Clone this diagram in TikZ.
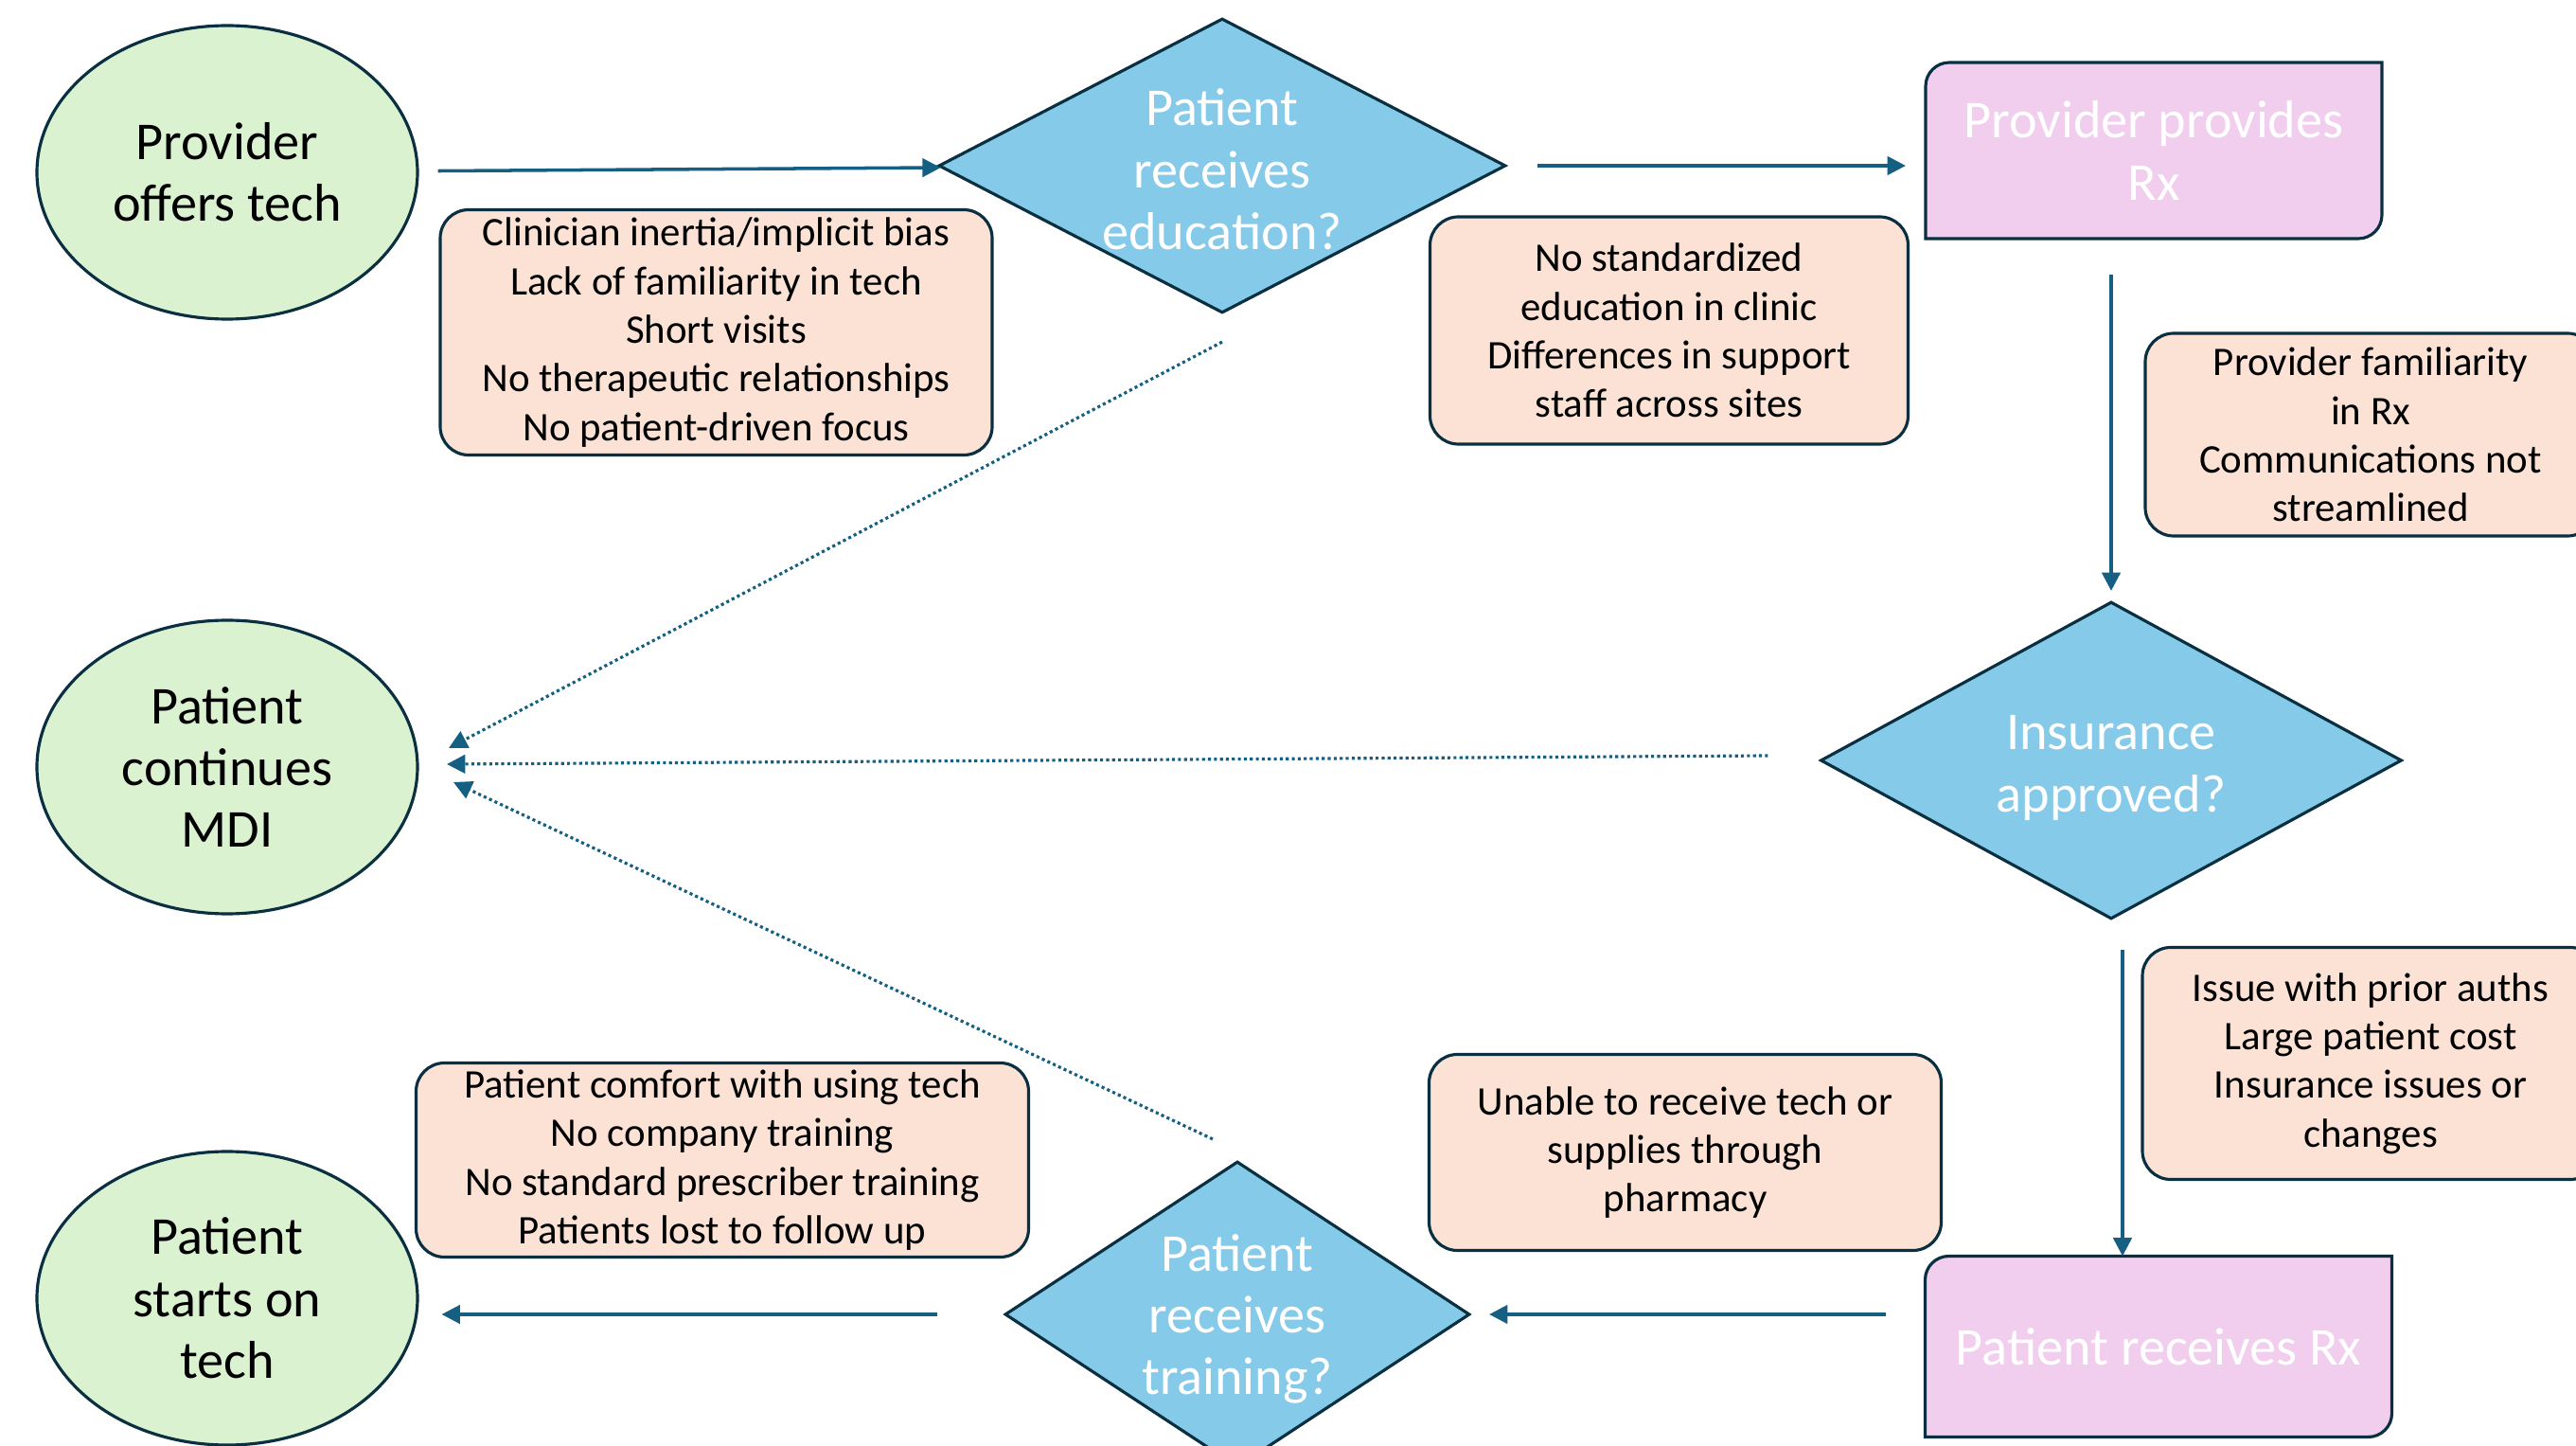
\documentclass[tikz,border=0pt]{standalone}
\usepackage{fontspec}
\setmainfont{Carlito}
\usetikzlibrary{shapes.geometric,arrows.meta,backgrounds}
\definecolor{bord}{HTML}{0A2F41}
\definecolor{arrowc}{HTML}{156082}
\definecolor{greenf}{HTML}{DAF2D0}
\definecolor{bluef}{HTML}{86CAEA}
\definecolor{pinkf}{HTML}{F2CEEE}
\definecolor{peachf}{HTML}{FBE2D5}
\begin{document}
\begin{tikzpicture}[x=1cm,y=1cm,
  oval/.style={ellipse, draw=bord, line width=0.9pt, fill=greenf, minimum width=4.02cm, minimum height=3.1cm, inner sep=0pt, align=center, font=\fontsize{16}{18.6}\selectfont},
  dia/.style={diamond, draw=bord, line width=0.9pt, fill=bluef, inner sep=0pt},
  diatext/.style={align=center, text=white, inner sep=0pt, font=\fontsize{16}{18.6}\selectfont},
  pinkbox/.style={minimum width=#1, inner sep=0pt, outer sep=0pt, align=center, text=white, font=\fontsize{16}{18.6}\selectfont},
  pinkshape/.style={draw=bord, line width=0.9pt, fill=pinkf},
  peach/.style={draw=bord, line width=0.9pt, fill=peachf, rounded corners=0.3cm, inner sep=0pt, outer sep=0pt, align=center, font=\fontsize{12.2}{14.6}\selectfont},
  flow/.style={draw=arrowc, line width=1pt, -{Triangle[length=5.5pt,width=5.5pt]}},
  dotflow/.style={draw=arrowc, line width=0.9pt, dash pattern=on 0.9pt off 0.9pt, -{Triangle[length=5.5pt,width=5.5pt]}}
]
\useasboundingbox (0,0) rectangle (27.21,15.26);
\clip (0,0) rectangle (27.21,15.26);

% ovals
\node[oval] (el1) at (2.40,13.44) {Provider\\offers tech};
\node[oval] (el2) at (2.40,7.16) {Patient\\continues\\MDI};
\node[oval] (el3) at (2.40,1.55) {Patient\\starts on\\tech};

% diamonds
\node[dia, minimum width=5.99cm, minimum height=3.11cm] (d1) at (12.91,13.51) {};
\node[diatext] (d1t) at ([yshift=-0.04cm]d1.center) {Patient\\receives\\education?};
\node[dia, minimum width=6.14cm, minimum height=3.35cm] (d2) at (22.30,7.23) {};
\node[diatext] (d2t) at ([yshift=-0.08cm]d2.center) {Insurance\\approved?};
\node[dia, minimum width=4.91cm, minimum height=3.23cm] (d3) at (13.07,1.38) {};
\node[diatext] (d3t) at ([yshift=-0.05cm]d3.center) {Patient\\receives\\training?};

% pink boxes
\node[pinkbox=4.82cm, minimum height=1.86cm] (p1) at (22.75,13.67) {Provider provides\\Rx};
\node[pinkbox=4.93cm, minimum height=1.91cm] (p2) at (22.80,1.04) {Patient receives Rx};
\begin{scope}[on background layer]
\draw[pinkshape] (p1.south west) -- ([yshift=-0.25cm]p1.north west) arc[start angle=180,end angle=90,radius=0.25cm] -- (p1.north east) -- ([yshift=0.25cm]p1.south east) arc[start angle=0,end angle=-90,radius=0.25cm] -- cycle;
\draw[pinkshape] (p2.south west) -- ([yshift=-0.25cm]p2.north west) arc[start angle=180,end angle=90,radius=0.25cm] -- (p2.north east) -- ([yshift=0.25cm]p2.south east) arc[start angle=0,end angle=-90,radius=0.25cm] -- cycle;
\end{scope}

% peach boxes
\node[peach, minimum width=5.83cm, minimum height=2.59cm] (b1) at (7.565,11.75) {Clinician inertia/implicit bias\\Lack of familiarity in tech\\Short visits\\No therapeutic relationships\\No patient-driven focus};
\node[peach, minimum width=5.05cm, minimum height=2.40cm] (b2) at (17.63,11.77) {No standardized\\education in clinic\\Differences in support\\staff across sites};
\node[peach, minimum width=4.76cm, minimum height=2.14cm] (b3) at (25.04,10.67) {Provider familiarity\\in Rx\\Communications not\\streamlined};
\node[peach, minimum width=4.82cm, minimum height=2.45cm] (b4) at (25.04,4.03) {Issue with prior auths\\Large patient cost\\Insurance issues or\\changes};
\node[peach, minimum width=5.41cm, minimum height=2.07cm] (b5) at (17.80,3.09) {Unable to receive tech or\\supplies through\\pharmacy};
\node[peach, minimum width=6.47cm, minimum height=2.05cm] (b6) at (7.63,3.01) {Patient comfort with using tech\\No company training\\No standard prescriber training\\Patients lost to follow up};

% solid flow
\draw[flow, shorten <=0.2cm] (el1) -- (d1);
\draw[flow, shorten <=0.32cm, shorten >=0.21cm] (d1.east) -- (d1.east -| p1.west);
\draw[flow, shorten <=0.38cm, shorten >=0.1cm] (p1.south -| d2.north) -- (d2.north);
\draw[flow, shorten <=0.31cm] ([xshift=0.12cm]d2.south) -- ([xshift=0.12cm]d2.south |- p2.north);
\draw[flow, shorten <=0.42cm, shorten >=0.19cm] (p2.west |- d3.east) -- (d3.east);
\draw[flow, shorten <=0.70cm, shorten >=0.24cm] (d3.west) -- (d3.west -| el3.east);

% dotted flow to MDI
\coordinate (t1) at (4.74,7.36);
\coordinate (t2) at (4.72,7.19);
\coordinate (t3) at (4.79,7.00);
\draw[dotflow] ([yshift=-0.29cm]d1.south) -- (t1);
\draw[dotflow] ([shift={(-0.54,0.05)}]d2.west) -- (t2);
\draw[dotflow] ([shift={(-0.26,0.22)}]d3.north) -- (t3);
\end{tikzpicture}
\end{document}
